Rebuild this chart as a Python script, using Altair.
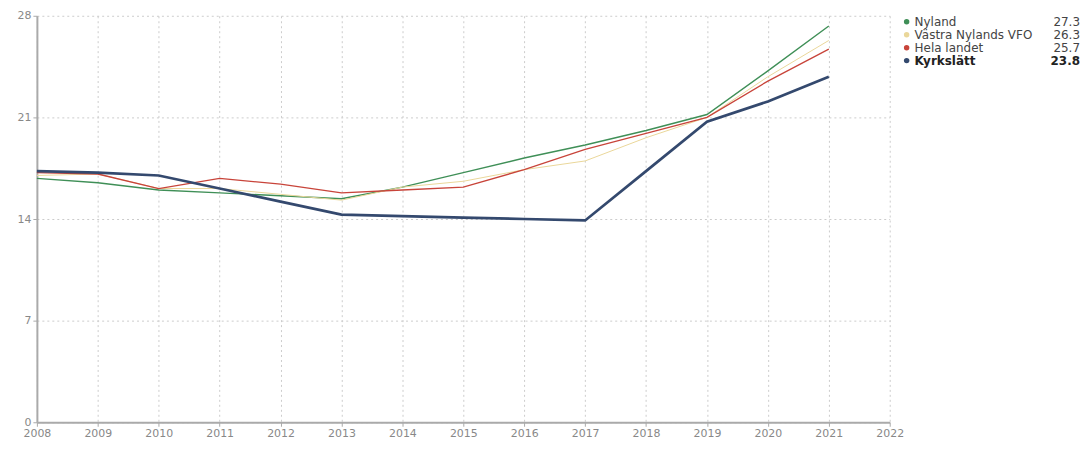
import altair as alt
import pandas as pd

years = list(range(2008, 2022))
series_names = ["Nyland", "Västra Nylands VFO", "Hela landet", "Kyrkslätt"]
nyland = [16.8, 16.5, 16.0, 15.8, 15.6, 15.4, 16.2, 17.2, 18.2, 19.1, 20.1, 21.2, 24.2, 27.3]
vastra = [17.0, 17.1, 16.1, 16.1, 15.7, 15.3, 16.2, 16.6, 17.4, 18.0, 19.6, 21.0, 23.8, 26.3]
hela = [17.2, 17.1, 16.1, 16.8, 16.4, 15.8, 16.0, 16.2, 17.4, 18.8, 19.9, 21.0, 23.5, 25.7]
kyrk = [17.3, 17.2, 17.0, 16.1, 15.2, 14.3, 14.2, 14.1, 14.0, 13.9, 17.3, 20.7, 22.1, 23.8]
last_values = ["27.3", "26.3", "25.7", "23.8"]
colors = ["#3f8f57", "#ead79a", "#c8443a", "#34496e"]
widths = [1.4, 1.0, 1.3, 2.7]

rows = []
for name, vals, w in zip(series_names, [nyland, vastra, hela, kyrk], widths):
    for yr, v in zip(years, vals):
        rows.append({"year": yr, "value": v, "series": name, "w": w})
df = pd.DataFrame(rows)

FONT = "DejaVu Sans"
H = 408
LW = 170

x_enc = alt.X("year:Q", scale=alt.Scale(domain=[2008, 2022], nice=False, zero=False),
              axis=alt.Axis(values=list(range(2008, 2023)), format="d", title=None,
                            labelFont=FONT, labelFontSize=11, labelColor="#888",
                            domainColor="#aaa", domainWidth=2, tickColor="#aaa", tickSize=4,
                            labelPadding=1, gridColor="#ccc", gridDash=[2, 3],
                            labelFlush=False, labelOverlap=False))
y_enc = alt.Y("value:Q", scale=alt.Scale(domain=[0, 28], nice=False),
              axis=alt.Axis(values=[0, 7, 14, 21, 28], title=None,
                            labelFont=FONT, labelFontSize=11, labelColor="#888",
                            domainColor="#aaa", domainWidth=2, tickColor="#aaa", tickSize=4,
                            gridColor="#ccc", gridDash=[2, 3], minExtent=24, maxExtent=24))

lines = alt.Chart(df).mark_line(clip=False).encode(
    x=x_enc,
    y=y_enc,
    color=alt.Color("series:N", scale=alt.Scale(domain=series_names, range=colors), legend=None),
    strokeWidth=alt.StrokeWidth("w:Q", scale=None),
    order=alt.Order("year:Q"),
).properties(width=856, height=H)

leg_df = pd.DataFrame({
    "series": series_names,
    "row": [0, 1, 2, 3],
    "val": last_values,
})

d0 = -6.0 / 13.0
ly = alt.Y("row:Q", scale=alt.Scale(domain=[d0, d0 + H / 13.0], reverse=True, nice=False, zero=False), axis=None)
dots = alt.Chart(leg_df).mark_circle(size=30, opacity=1).encode(
    x=alt.value(-4), y=ly,
    color=alt.Color("series:N", scale=alt.Scale(domain=series_names, range=colors), legend=None))
names_n = alt.Chart(leg_df).transform_filter("datum.row < 3").mark_text(
    align="left", baseline="middle", font=FONT, fontSize=12, color="#444").encode(
    x=alt.value(4), y=ly, text="series:N")
names_b = alt.Chart(leg_df).transform_filter("datum.row == 3").mark_text(
    align="left", baseline="middle", font=FONT, fontSize=12, fontWeight="bold", color="#222").encode(
    x=alt.value(4), y=ly, text="series:N")
vals_n = alt.Chart(leg_df).transform_filter("datum.row < 3").mark_text(
    align="right", baseline="middle", font=FONT, fontSize=12, color="#444").encode(
    x=alt.value(LW), y=ly, text="val:N")
vals_b = alt.Chart(leg_df).transform_filter("datum.row == 3").mark_text(
    align="right", baseline="middle", font=FONT, fontSize=12, fontWeight="bold", color="#222").encode(
    x=alt.value(LW), y=ly, text="val:N")
legend = alt.layer(dots, names_n, names_b, vals_n, vals_b).properties(width=LW, height=H)

chart = alt.hconcat(lines, legend, spacing=0).properties(
    padding={"left": 5, "top": 1, "right": 0, "bottom": 0},
    background="white",
).configure_view(stroke=None)

chart.save("out.html", embed_options={"renderer": "svg", "actions": False})
